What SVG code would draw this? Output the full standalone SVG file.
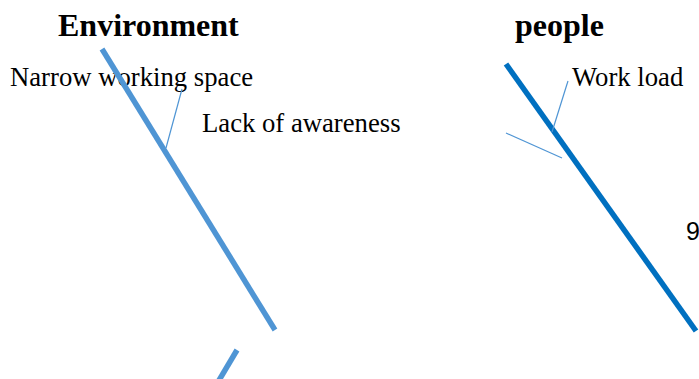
<svg xmlns="http://www.w3.org/2000/svg" width="699" height="379" viewBox="0 0 699 379">
<style>
.t{font-family:"Liberation Serif","Times New Roman",serif;font-size:26.7px;fill:#000}
.h{font-family:"Liberation Serif","Times New Roman",serif;font-size:32px;font-weight:bold;fill:#000}
.n{font-family:"Liberation Sans",Arial,sans-serif;font-size:25px;fill:#000}
.env{stroke:#4f95d4;stroke-width:5.5;fill:none}
.ppl{stroke:#0070c0;stroke-width:5.5;fill:none}
.thin{stroke:#4f95d4;stroke-width:1.2;fill:none}
</style>
<rect width="699" height="379" fill="#fff"/>
<g id="environment"><text class="h" x="58" y="36">Environment</text></g>
<g id="people"><text class="h" x="515" y="36">people</text></g>
<g id="narrow"><text class="t" x="10" y="86">Narrow working space</text></g>
<g id="awareness"><text class="t" x="202" y="132">Lack of awareness</text></g>
<g id="workload"><text class="t" x="572" y="86">Work load</text></g>
<g id="nine"><text class="n" x="686" y="240">9</text></g>
<g id="connectors">
<line class="env" x1="102" y1="49" x2="275" y2="330"/>
<line class="env" x1="237" y1="350" x2="218" y2="382"/>
<line class="thin" x1="182" y1="89" x2="166" y2="148"/>
<line class="ppl" x1="506" y1="64" x2="696" y2="331"/>
<line class="thin" x1="568" y1="81" x2="552" y2="132"/>
<line class="thin" x1="506" y1="133" x2="562" y2="158"/>
</g>
</svg>
